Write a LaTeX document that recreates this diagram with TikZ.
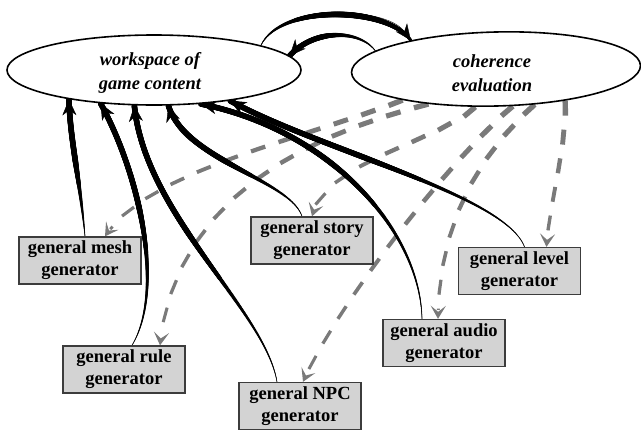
\documentclass[tikz,border=0pt]{standalone}
\usepackage{fontspec}
\setmainfont{Liberation Serif}
\usetikzlibrary{arrows.meta,shapes.geometric,decorations.markings,calc}
\pgfdeclarelayer{conn}
\pgfsetlayers{conn,main}
\definecolor{boxfill}{HTML}{D3D3D3}
\definecolor{boxline}{HTML}{3C3C3C}
\definecolor{dashgray}{HTML}{7A7A7A}
\tikzset{
  ell/.style={ellipse, draw=black, line width=1.6pt, fill=white, inner sep=0pt},
  etext/.style={font=\fontsize{18.5}{24}\selectfont\bfseries\itshape, align=center, inner sep=0pt},
  genbox/.style={rectangle, draw=boxline, line width=1.3pt, fill=boxfill, minimum width=122pt, minimum height=47pt, inner sep=0pt, align=center, font=\fontsize{18.5}{22}\selectfont\bfseries},
  taper/.style={draw=black, line width=0.4pt, -{Stealth[length=16pt,width=14pt,inset=5pt]},
     postaction={decorate, decoration={markings,
       mark=between positions 0 and 1 step 0.4pt with {%
         \pgfmathsetmacro\tpp{\pgfkeysvalueof{/pgf/decoration/mark info/distance from start}/\pgfdecoratedpathlength}%
         \pgfmathsetmacro\trr{#1}%
         \fill[black] (0pt,0pt) circle[radius=\trr pt];}}}},
  gen/.style={taper={0.3+2.5*min(1,\tpp/0.55)}},
  graydash/.style={draw=dashgray, line width=1.8pt, dash pattern=on 0pt off 3000pt, line cap=butt, -{Stealth[length=13pt,width=15pt,inset=6pt]},
     postaction={decorate, decoration={markings,
       mark=between positions 0 and 1 step 29pt with {%
         \pgfmathsetmacro\gdd{\pgfkeysvalueof{/pgf/decoration/mark info/distance from start}}%
         \pgfmathsetmacro\glen{\pgfdecoratedpathlength}%
         \pgfmathsetmacro\ghw{2.7-1.3*\gdd/\glen}%
         \pgfmathsetmacro\gdl{min(15,\glen-9-\gdd)}%
         \ifdim\gdl pt>1pt \fill[dashgray] (0pt,-\ghw pt) rectangle (\gdl pt,\ghw pt);\fi}}}},
}
\begin{document}
\begin{tikzpicture}[x=1pt,y=-1pt]
\useasboundingbox (0,0) rectangle (641,432);
% ellipses
\node[ell, minimum width=294pt, minimum height=70pt] (ws) at (154,70) {};
\node[etext] (wstext) at (150,73) {workspace of\\game content};
\node[ell, minimum width=289pt, minimum height=74pt, rotate=1.4] (coh) at (496,69) {};
\node[etext] (cohtext) at (492,73) {coherence\\evaluation};
% generator boxes
\node[genbox] (mesh) at (80,260.5) {general mesh\\generator};
\node[genbox] (rule) at (124,369.5) {general rule\\generator};
\node[genbox] (story) at (312,240.5) {general story\\generator};
\node[genbox] (npc) at (300,406) {general NPC\\generator};
\node[genbox] (level) at (519.5,271) {general level\\generator};
\node[genbox] (audio) at (444,343) {general audio\\generator};
\begin{pgfonlayer}{conn}
% gray dashed evaluation arrows
\path[graydash] (coh.197) .. controls (300,140) and (150,170) .. ($(mesh.north)+(25,0)$);
\path[graydash] (coh.206) .. controls (330,130) and (178,185) .. ($(rule.north)+(36,0)$);
\path[graydash] (coh.240) .. controls (430,145) and (330,160) .. ($(story.north)+(0,0)$);
\path[graydash] (coh.293) .. controls (450,160) and (340,300) .. ($(npc.north)+(3,0)$);
\path[graydash] (coh.316) .. controls (485,150) and (440,215) .. ($(audio.north)+(-6,0)$);
\path[graydash] (coh.334) .. controls (566,150) and (550,200) .. ($(level.north)+(27,0)$);
% black tapered generator arrows
\path[gen] ($(mesh.north)+(5,0)$) .. controls (80,180) and (70,140) .. (ws.199.5);
\path[gen] ($(rule.north)+(8,0)$) .. controls (165,290) and (140,175) .. (ws.212);
\path[gen] ($(npc.north)+(-23,0)$) .. controls (265,310) and (145,215) .. (ws.241.5);
\path[gen] ($(story.north)+(-10,0)$) .. controls (290,180) and (185,160) .. (ws.292);
\path[gen] ($(audio.north)+(-22,0)$) .. controls (420,230) and (330,130) .. (ws.324);
\path[gen] ($(level.north)+(5,0)$) .. controls (505,195) and (320,150) .. (ws.338);
% top arrows between ellipses
\path[taper={0.4+2.5*sin(180*0.85*\tpp)}] (ws.13) .. controls (280,5) and (385,5) .. (coh.160);
\path[taper={0.4+2.3*min(1,\tpp/0.6)}] (coh.170) .. controls (360,30) and (315,28) .. (ws.6);
\end{pgfonlayer}
\end{tikzpicture}
\end{document}
